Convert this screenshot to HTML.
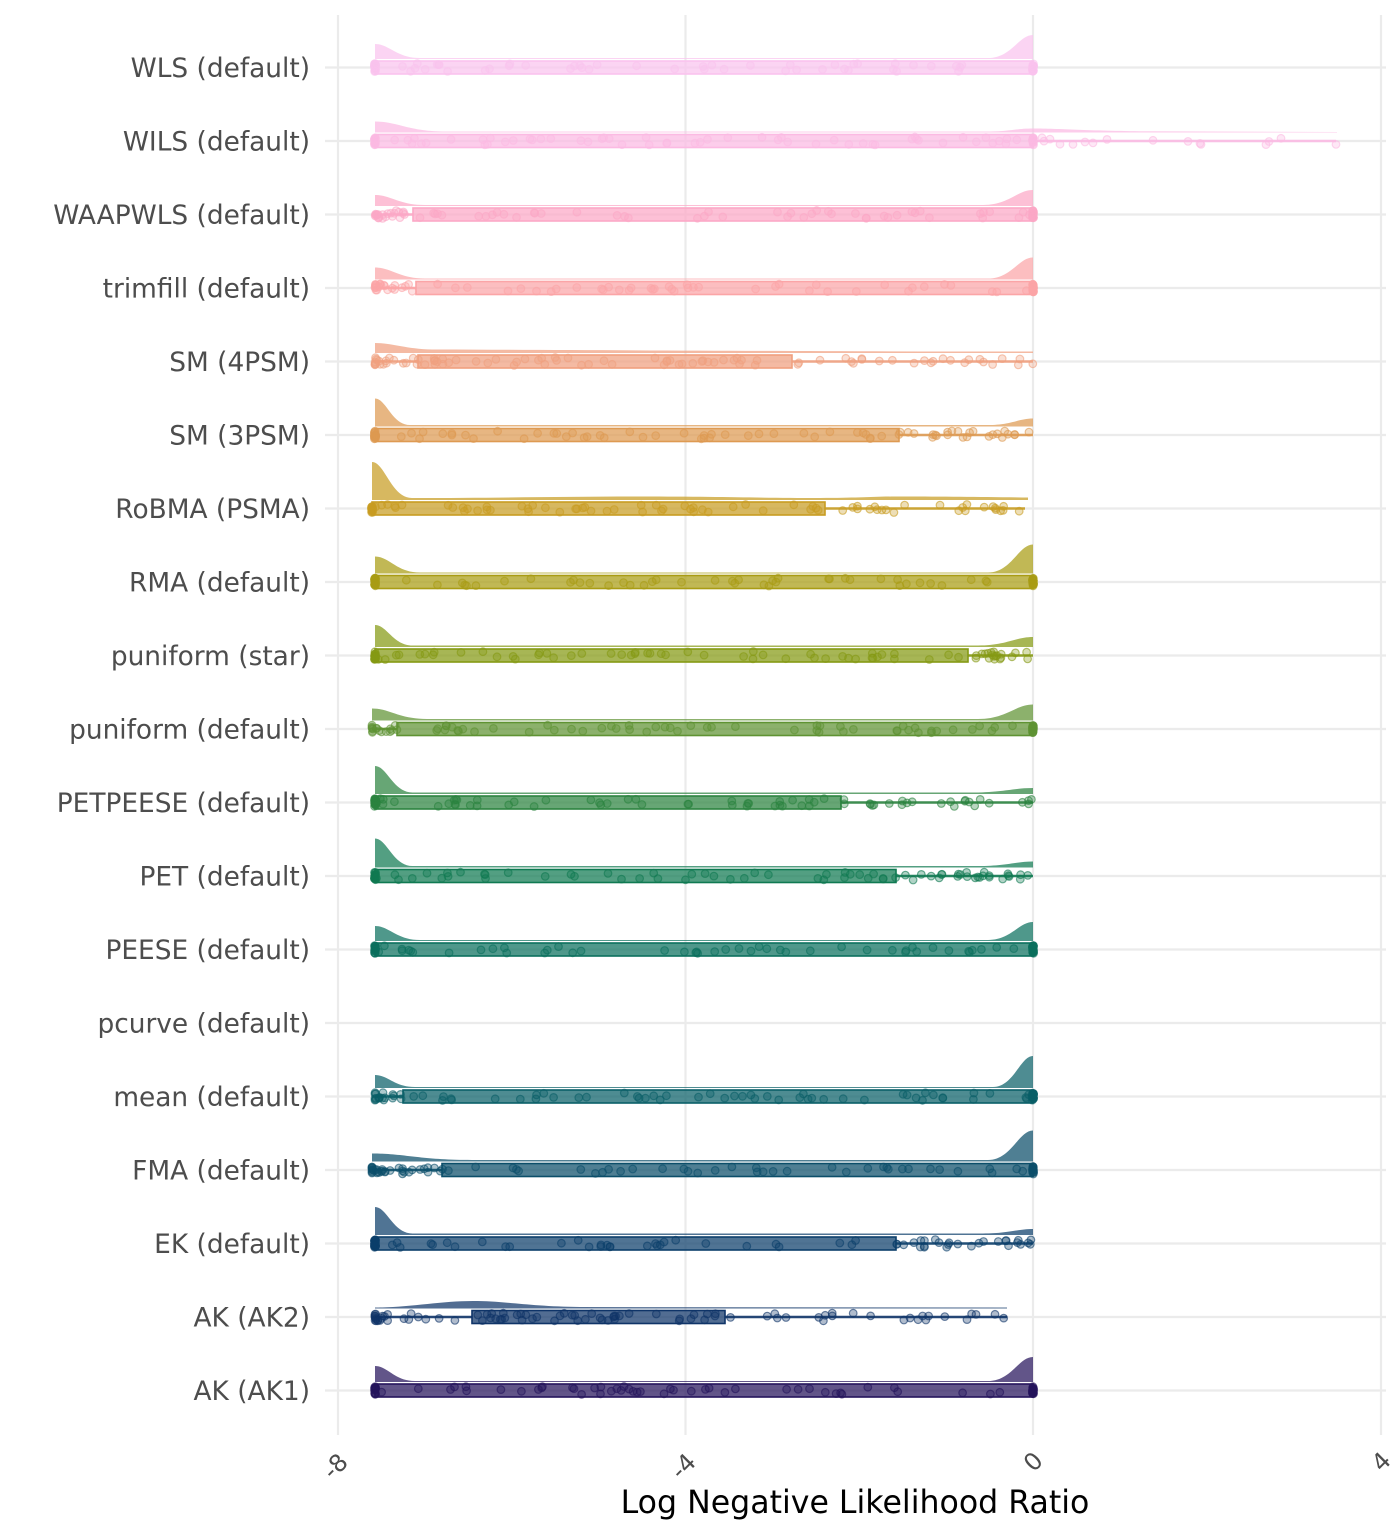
<!DOCTYPE html>
<html><head><meta charset="utf-8"><style>
html,body{margin:0;padding:0;background:#fff;}
svg{display:block;}
.yl{font-family:"DejaVu Sans","Liberation Sans",sans-serif;font-size:26.4px;fill:#4d4d4d;text-anchor:end;}
.xl{font-family:"DejaVu Sans","Liberation Sans",sans-serif;font-size:24px;fill:#4d4d4d;text-anchor:middle;}
.tt{font-family:"DejaVu Sans","Liberation Sans",sans-serif;font-size:31.6px;fill:#000;text-anchor:middle;}
</style></head><body>
<svg width="1400" height="1536" viewBox="0 0 1400 1536">
<rect width="1400" height="1536" fill="#fff"/>
<g stroke="#ebebeb" stroke-width="2.2">
<line x1="338" y1="15" x2="338" y2="1435"/><line x1="685.5" y1="15" x2="685.5" y2="1435"/><line x1="1033" y1="15" x2="1033" y2="1435"/><line x1="1381" y1="15" x2="1381" y2="1435"/>
<line x1="325" y1="67.5" x2="1386" y2="67.5"/><line x1="325" y1="141" x2="1386" y2="141"/><line x1="325" y1="214.5" x2="1386" y2="214.5"/><line x1="325" y1="288" x2="1386" y2="288"/><line x1="325" y1="361.5" x2="1386" y2="361.5"/><line x1="325" y1="435" x2="1386" y2="435"/><line x1="325" y1="508.5" x2="1386" y2="508.5"/><line x1="325" y1="582" x2="1386" y2="582"/><line x1="325" y1="655.5" x2="1386" y2="655.5"/><line x1="325" y1="729" x2="1386" y2="729"/><line x1="325" y1="802.5" x2="1386" y2="802.5"/><line x1="325" y1="876" x2="1386" y2="876"/><line x1="325" y1="949.5" x2="1386" y2="949.5"/><line x1="325" y1="1023" x2="1386" y2="1023"/><line x1="325" y1="1096.5" x2="1386" y2="1096.5"/><line x1="325" y1="1170" x2="1386" y2="1170"/><line x1="325" y1="1243.5" x2="1386" y2="1243.5"/><line x1="325" y1="1317" x2="1386" y2="1317"/><line x1="325" y1="1390.5" x2="1386" y2="1390.5"/>
</g>

<g fill-opacity="0.72">
<path fill="#FAC3EE" d="M375,59 L375,44 C389.4,44 396.6,58 420,58 L988,58 C1011.4,58 1018.6,35 1033,35 L1033,59Z"/>
<path fill="#FBBAE3" d="M375,132.5 L375,121.5 C397.4,121.5 408.6,131.5 445,131.5 L990,131.5 C1010,131.5 1015,128.5 1033,128.5 C1060,128.5 1090,131 1150,131.3 L1337,132 L1337,132.5 Z"/>
<path fill="#FCA8C6" d="M375,206 L375,195 C391,195 399,205 425,205 L983,205 C1009,205 1017,190 1033,190 L1033,206Z"/>
<path fill="#FBA5A7" d="M375,279.5 L375,267.5 C391,267.5 399,278.5 425,278.5 L988,278.5 C1011.4,278.5 1018.6,257.5 1033,257.5 L1033,279.5Z"/>
<path fill="#F0A07F" d="M375,353 L375,343 C395,343 405,349.5 437.5,349.5 C600,350 800,351.5 1033,351.5 L1033,353Z"/>
<path fill="#DE9A52" d="M375,426.5 L375,398.5 C386.2,398.5 391.8,425 410,425 L988,425 C1011.4,425 1018.6,418.5 1033,418.5 L1033,426.5Z"/>
<path fill="#C89C22" d="M372,500 L372,462 C384.8,462 391.2,498 412,498 C500,498 560,496.5 640,496.5 C720,496.5 760,498 820,498 C860,498 870,496.5 900,496.5 C950,496.5 980,497 1028,497.5 L1028,500Z"/>
<path fill="#A99C14" d="M375,573.5 L375,556.5 C389.4,556.5 396.6,572.5 420,572.5 L988,572.5 C1011.4,572.5 1018.6,544.5 1033,544.5 L1033,573.5Z"/>
<path fill="#859A14" d="M375,647 L375,625 C387,625 393,645.5 412.5,645.5 L978,645.5 C1006.6,645.5 1015.4,637 1033,637 L1033,647Z"/>
<path fill="#5F9333" d="M372,720.5 L372,708.5 C389.6,708.5 398.4,719 427,719 L978,719 C1006.6,719 1015.4,704.5 1033,704.5 L1033,720.5Z"/>
<path fill="#2C8440" d="M375,794 L375,766 C387,766 393,792.5 412.5,792.5 L970.5,792.5 C1003,792.5 1013,788 1033,788 L1033,794Z"/>
<path fill="#107A52" d="M375,867.5 L375,838.5 C387,838.5 393,866 412.5,866 L978,866 C1006.6,866 1015.4,861.5 1033,861.5 L1033,867.5Z"/>
<path fill="#0B705E" d="M375,941 L375,926 C389.4,926 396.6,940 420,940 L988,940 C1011.4,940 1018.6,922 1033,922 L1033,941Z"/>
<path fill="#0A5F68" d="M375,1088 L375,1075 C387.8,1075 394.2,1087 415,1087 L993,1087 C1013.8,1087 1020.2,1056 1033,1056 L1033,1088Z"/>
<path fill="#0B4E6A" d="M372,1161.5 L372,1153.5 C404,1153.5 420,1160 472,1160 L988,1160 C1011.4,1160 1018.6,1130.5 1033,1130.5 L1033,1161.5Z"/>
<path fill="#0C3F6B" d="M375,1235 L375,1207 C387,1207 393,1233.5 412.5,1233.5 L983,1233.5 C1009,1233.5 1017,1229 1033,1229 L1033,1235Z"/>
<path fill="#0F3468" d="M375,1308.5 L375,1307.5 C410,1307.5 440,1301 473,1301 C506,1301 530,1306.5 580,1307 L1007,1307.5 L1007,1308.5Z"/>
<path fill="#25145C" d="M375,1382 L375,1366 C387.8,1366 394.2,1381 415,1381 L988,1381 C1011.4,1381 1018.6,1357 1033,1357 L1033,1382Z"/>
</g>

<g stroke-width="2.6" stroke-opacity="0.9">
<line stroke="#FBBAE3" x1="1033" y1="141" x2="1336" y2="141"/>
<line stroke="#FCA8C6" x1="375" y1="214.5" x2="413" y2="214.5"/>
<line stroke="#FBA5A7" x1="375" y1="288" x2="416" y2="288"/>
<line stroke="#F0A07F" x1="375" y1="361.5" x2="418" y2="361.5"/><line stroke="#F0A07F" x1="792" y1="361.5" x2="1033" y2="361.5"/>
<line stroke="#DE9A52" x1="899" y1="435" x2="1033" y2="435"/>
<line stroke="#C89C22" x1="825" y1="508.5" x2="1025" y2="508.5"/>
<line stroke="#859A14" x1="968" y1="655.5" x2="1033" y2="655.5"/>
<line stroke="#5F9333" x1="372" y1="729" x2="397" y2="729"/>
<line stroke="#2C8440" x1="841" y1="802.5" x2="1033" y2="802.5"/>
<line stroke="#107A52" x1="896" y1="876" x2="1033" y2="876"/>
<line stroke="#0A5F68" x1="375" y1="1096.5" x2="403" y2="1096.5"/>
<line stroke="#0B4E6A" x1="372" y1="1170" x2="442" y2="1170"/>
<line stroke="#0C3F6B" x1="896" y1="1243.5" x2="1033" y2="1243.5"/>
<line stroke="#0F3468" x1="375" y1="1317" x2="472" y2="1317"/><line stroke="#0F3468" x1="725" y1="1317" x2="1007" y2="1317"/>
</g>

<g fill-opacity="0.72" stroke-width="1.6">
<rect fill="#FAC3EE" stroke="#FAC3EE" x="375" y="61" width="658" height="13"/>
<rect fill="#FBBAE3" stroke="#FBBAE3" x="375" y="134.5" width="658" height="13"/>
<rect fill="#FCA8C6" stroke="#FCA8C6" x="413" y="208" width="620" height="13"/>
<rect fill="#FBA5A7" stroke="#FBA5A7" x="416" y="281.5" width="617" height="13"/>
<rect fill="#F0A07F" stroke="#F0A07F" x="418" y="355" width="374" height="13"/>
<rect fill="#DE9A52" stroke="#DE9A52" x="375" y="428.5" width="524" height="13"/>
<rect fill="#C89C22" stroke="#C89C22" x="372" y="502" width="453" height="13"/>
<rect fill="#A99C14" stroke="#A99C14" x="375" y="575.5" width="658" height="13"/>
<rect fill="#859A14" stroke="#859A14" x="375" y="649" width="593" height="13"/>
<rect fill="#5F9333" stroke="#5F9333" x="397" y="722.5" width="636" height="13"/>
<rect fill="#2C8440" stroke="#2C8440" x="375" y="796" width="466" height="13"/>
<rect fill="#107A52" stroke="#107A52" x="375" y="869.5" width="521" height="13"/>
<rect fill="#0B705E" stroke="#0B705E" x="375" y="943" width="658" height="13"/>
<rect fill="#0A5F68" stroke="#0A5F68" x="403" y="1090" width="630" height="13"/>
<rect fill="#0B4E6A" stroke="#0B4E6A" x="442" y="1163.5" width="591" height="13"/>
<rect fill="#0C3F6B" stroke="#0C3F6B" x="375" y="1237" width="521" height="13"/>
<rect fill="#0F3468" stroke="#0F3468" x="472" y="1310.5" width="253" height="13"/>
<rect fill="#25145C" stroke="#25145C" x="375" y="1384" width="658" height="13"/>
</g>

<g id="pts"></g>

<g class="yl">
<text class="yl" x="310" y="77">WLS (default)</text>
<text class="yl" x="310" y="150.5">WILS (default)</text>
<text class="yl" x="310" y="224">WAAPWLS (default)</text>
<text class="yl" x="310" y="297.5">trimfill (default)</text>
<text class="yl" x="310" y="371">SM (4PSM)</text>
<text class="yl" x="310" y="444.5">SM (3PSM)</text>
<text class="yl" x="310" y="518">RoBMA (PSMA)</text>
<text class="yl" x="310" y="591.5">RMA (default)</text>
<text class="yl" x="310" y="665">puniform (star)</text>
<text class="yl" x="310" y="738.5">puniform (default)</text>
<text class="yl" x="310" y="812">PETPEESE (default)</text>
<text class="yl" x="310" y="885.5">PET (default)</text>
<text class="yl" x="310" y="959">PEESE (default)</text>
<text class="yl" x="310" y="1032.5">pcurve (default)</text>
<text class="yl" x="310" y="1106">mean (default)</text>
<text class="yl" x="310" y="1179.5">FMA (default)</text>
<text class="yl" x="310" y="1253">EK (default)</text>
<text class="yl" x="310" y="1326.5">AK (AK2)</text>
<text class="yl" x="310" y="1400">AK (AK1)</text>
</g>

<text class="xl" transform="translate(341,1472) rotate(-45)">-8</text>
<text class="xl" transform="translate(689,1472) rotate(-45)">-4</text>
<text class="xl" transform="translate(1039,1467.5) rotate(-45)">0</text>
<text class="xl" transform="translate(1387,1467.5) rotate(-45)">4</text>

<text class="tt" x="855" y="1513">Log Negative Likelihood Ratio</text>
</svg>
<script>
(function(){
var R=[
[67.5,'#FAC3EE',375,375,1033,1033],
[141,'#FBBAE3',375,375,1033,1033],
[214.5,'#FCA8C6',375,413,1033,1033],
[288,'#FBA5A7',375,416,1033,1033],
[361.5,'#F0A07F',375,418,792,1033],
[435,'#DE9A52',375,375,899,1033],
[508.5,'#C89C22',372,372,825,1025],
[582,'#A99C14',375,375,1033,1033],
[655.5,'#859A14',375,375,968,1033],
[729,'#5F9333',372,397,1033,1033],
[802.5,'#2C8440',375,375,841,1033],
[876,'#107A52',375,375,896,1033],
[949.5,'#0B705E',375,375,1033,1033],
[1096.5,'#0A5F68',375,403,1033,1033],
[1170,'#0B4E6A',372,442,1033,1033],
[1243.5,'#0C3F6B',375,375,896,1033],
[1317,'#0F3468',375,472,725,1007],
[1390.5,'#25145C',375,375,1033,1033]
];
var s=12345;
function r(){s=(s*16807)%2147483647;return (s-1)/2147483646;}
var h='';
function pt(x,y,c){h+='<circle cx="'+x.toFixed(1)+'" cy="'+y.toFixed(1)+'" r="3.8" fill="'+c+'" fill-opacity="0.33" stroke="'+c+'" stroke-opacity="0.6" stroke-width="1.2"/>';}
for(var i=0;i<R.length;i++){
 var c=R[i][0],col=R[i][1],mn=R[i][2],q1=R[i][3],q3=R[i][4],mx=R[i][5];
 var n=90;
 for(var k=0;k<n;k++){
  var u=r(),x;
  if(u<0.25){ x=(q1-mn<2)? mn+(r()-0.5)*1.2 : mn+(q1-mn)*Math.pow(r(),3); }
  else if(u<0.75){ x=q1+(q3-q1)*r(); }
  else { x=(mx-q3<2)? mx+(r()-0.5)*1.2 : q3+(mx-q3)*r(); }
  var y=c+(r()-0.5)*8;
  pt(x,y,col);
 }
 if(i==1){
  var ex=[1042,1044,1050,1060,1073,1085,1093,1107,1153,1188,1200,1201,1266,1269,1281,1336];
  for(var j=0;j<ex.length;j++){pt(ex[j],c+(r()-0.5)*8,col);}
 }
}
document.getElementById('pts').innerHTML=h;
})();
</script>
</body></html>
